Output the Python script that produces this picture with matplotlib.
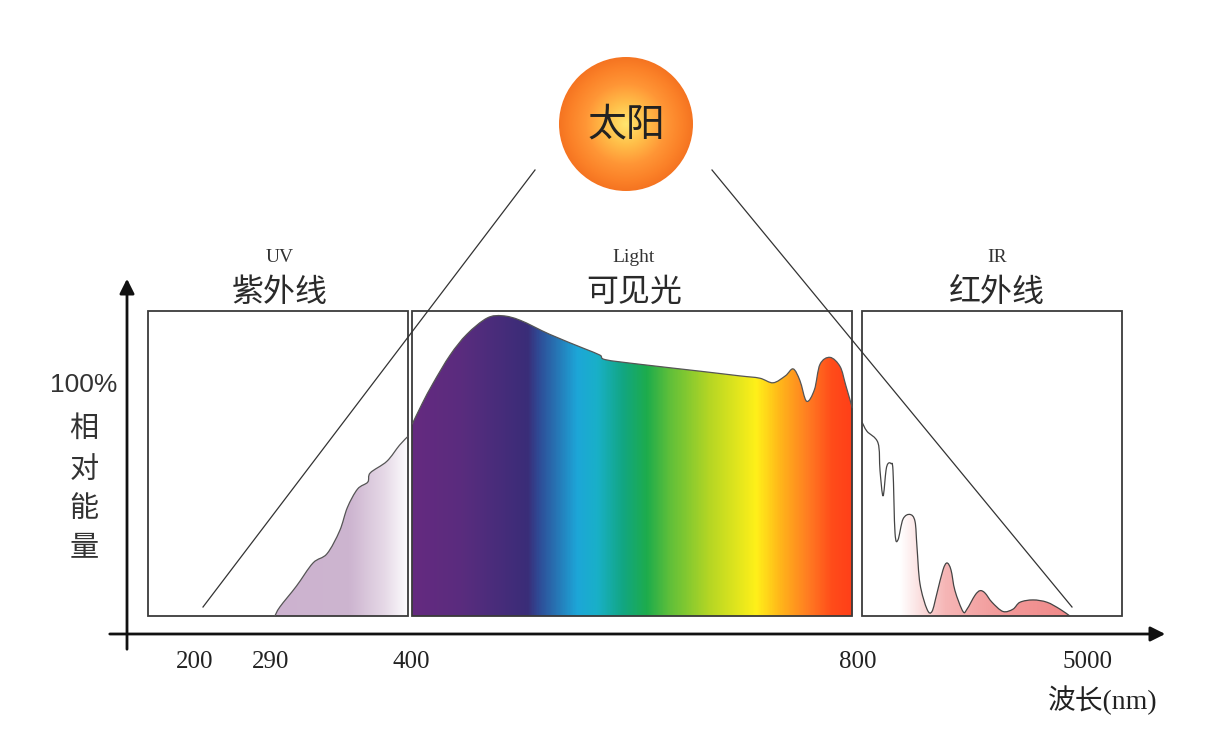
import numpy as np
import matplotlib.pyplot as plt
from matplotlib.colors import LinearSegmentedColormap
from matplotlib.patches import Rectangle, Circle, PathPatch
from matplotlib.path import Path
from matplotlib.transforms import blended_transform_factory

plt.rcParams['font.family'] = ['Noto Sans CJK SC', 'DejaVu Sans']

# wavelength ticks (nm) and where each one sits along the sketch (px)
tick_nm = [200, 290, 400, 800, 5000]
tick_px = [195, 271, 411, 858, 1088]

# relative energy (%)
uv_nm = [293, 297, 310, 323, 334, 344, 350, 358, 366, 368, 381, 391, 398]
uv_energy = [0, 4, 13, 23, 27, 37, 47, 55, 58, 62, 67, 74, 78]

vis_nm = [401, 410, 420, 435, 450, 468, 482, 498, 524, 554, 569, 574, 605,
          659, 694, 712, 724, 735, 742, 748, 754, 761, 766, 775, 784, 789, 795]
vis_energy = [83, 92, 101, 113, 122, 129, 130, 128, 122, 116, 113, 111, 109,
              106, 104, 103, 101, 104, 107, 102, 93, 98, 109, 112, 108, 100, 90]

ir_nm = [873, 964, 1165, 1202, 1257, 1311, 1348, 1403, 1439, 1476, 1530, 1622,
         1750, 1841, 1877, 1932, 2060, 2151, 2243, 2352, 2425, 2498, 2571, 2717,
         2790, 2936, 3028, 3119, 3247, 3448, 3630, 3758, 3996, 4251, 4489, 4671]
ir_energy = [84, 80, 75, 63, 52, 63, 66, 66, 63, 36, 33, 42,
             44, 41, 30, 14, 3, 2, 10, 20, 23, 20, 11, 2,
             3, 9, 11, 10, 6, 2, 3, 6, 7, 6, 3, 0]

bands_cn = ['紫外线', '可见光', '红外线']
bands_en = ['UV', 'Light', 'IR']

# spectrum colours across the visible box (px position, colour)
vis_stops = [(411, '#652a80'), (460, '#5a2c7e'), (527, '#3a2d78'), (538, '#2f4a95'),
             (577, '#1da6d8'), (597, '#19b0c8'), (623, '#12a682'), (647, '#1dac4c'),
             (670, '#5fbf3a'), (710, '#b5d624'), (757, '#fff019'), (780, '#ffb81a'),
             (810, '#ff7a22'), (833, '#ff4c1a'), (853, '#ff3f18')]

fig = plt.figure(figsize=(12.3, 7.42), dpi=100)

# drawing layer in pixels
ax = fig.add_axes([0, 0, 1, 1])
ax.set_xlim(0, 1230)
ax.set_ylim(742, 0)
ax.axis('off')

# data layer: wavelength (piecewise scale) vs relative energy
ax2 = fig.add_axes([0, 0, 1, 1])
nm_anchor = [-31] + tick_nm + [7593]
px_anchor = [0] + tick_px + [1230]
ax2.set_xscale('function', functions=(lambda v: np.interp(v, nm_anchor, px_anchor),
                                      lambda p: np.interp(p, px_anchor, nm_anchor)))
ax2.set_xlim(-31, 7593)
ax2.set_ylim(-54.5, 266.7)   # 0 % on the box floor, 100 % at the "100%" label
ax2.axis('off')
ax2.patch.set_alpha(0)


def smooth(xs, ys, close=False):
    # catmull-rom through the read points, as bezier segments
    p = np.column_stack([xs, ys]).astype(float)
    n = len(p)
    verts = [p[0]]
    codes = [Path.MOVETO]
    for i in range(n - 1):
        p0, p1, p2, p3 = p[max(i - 1, 0)], p[i], p[i + 1], p[min(i + 2, n - 1)]
        verts += [p1 + (p2 - p0) / 6, p2 - (p3 - p1) / 6, p2]
        codes += [Path.CURVE4] * 3
    if close:
        verts += [(xs[-1], 0), (xs[0], 0), (xs[0], 0)]
        codes += [Path.LINETO, Path.LINETO, Path.CLOSEPOLY]
    return Path(verts, codes)


def spectrum(xs, ys, color):
    shape = PathPatch(smooth(xs, ys, close=True), facecolor='none', edgecolor='none')
    ax2.add_patch(shape)
    ax2.add_patch(PathPatch(smooth(xs, ys), fill=False, edgecolor=color, lw=0.9, zorder=3))
    return shape


def hgrad(x0, x1, y0, y1, stops, clip):
    pos = [(q - x0) / (x1 - x0) for q, _ in stops]
    cmap = LinearSegmentedColormap.from_list('g', list(zip(pos, [c for _, c in stops])))
    im = ax.imshow(np.linspace(0, 1, 600)[None, :], cmap=cmap, aspect='auto',
                   extent=(x0, x1, y1, y0), zorder=2, interpolation='bilinear')
    im.set_clip_path(clip)


uv_shape = spectrum(uv_nm, uv_energy, '#555555')
vis_shape = spectrum(vis_nm, vis_energy, '#555555')
ir_shape = spectrum(ir_nm, ir_energy, '#444444')

hgrad(270, 410, 300, 617, [(270, '#ccb2cf'), (350, '#cdb5d0'), (385, '#e6d9e7'),
                           (410, '#ffffff')], uv_shape)
hgrad(411, 853, 300, 617, vis_stops, vis_shape)
hgrad(860, 1075, 400, 617, [(860, '#ffffff'), (900, '#ffffff'), (945, '#f6b6b6'),
                            (1000, '#f29a9a'), (1075, '#f08888')], ir_shape)

# band boxes
for x0, x1 in [(148, 408), (412, 852), (862, 1122)]:
    ax.add_patch(Rectangle((x0, 311), x1 - x0, 305, fill=False, ec='#3a3a3a',
                           lw=1.3, zorder=4))
for cx, cn, en in zip([280, 634, 997], bands_cn, bands_en):
    ax.text(cx, 258, en, ha='center', va='center', fontsize=14,
            family=['Liberation Serif'], color='#333333')
    ax.text(cx, 292, cn, ha='center', va='center', fontsize=23, color='#2a2a2a')

# light rays from the sun
ax.plot([535, 203], [170, 607], color='#333333', lw=0.9, zorder=5)
ax.plot([712, 1072], [170, 607], color='#333333', lw=0.9, zorder=5)

# sun
sun = Circle((626, 124), 67, facecolor='none', edgecolor='none')
ax.add_patch(sun)
yy, xx = np.mgrid[-1:1:300j, -1:1:300j]
rr = np.clip(np.hypot(xx, yy), 0, 1)
sun_cmap = LinearSegmentedColormap.from_list(
    's', [(0, '#ffe56e'), (0.3, '#ffc04a'), (0.6, '#ff9636'), (0.85, '#fb8128'), (1, '#f57421')])
im = ax.imshow(rr, cmap=sun_cmap, extent=(559, 693, 191, 57), aspect='auto',
               zorder=6, interpolation='bilinear')
im.set_clip_path(sun)
ax.text(626, 124, '太阳', ha='center', va='center', fontsize=28, color='#222222', zorder=7)

# axes arrows
ax.annotate('', xy=(127, 276), xytext=(127, 652),
            arrowprops=dict(arrowstyle='-|>', lw=2, color='#111111', mutation_scale=22))
ax.annotate('', xy=(1168, 634), xytext=(107, 634),
            arrowprops=dict(arrowstyle='-|>', lw=2, color='#111111', mutation_scale=22))

# tick labels
tr = blended_transform_factory(ax2.transData, ax.transData)
for w in tick_nm:
    ax2.text(w, 662, str(w), transform=tr, ha='center', va='center', fontsize=18,
             family=['Liberation Serif'], color='#222222')
ax.text(1103, 700, '波长(nm)', ha='center', va='center', fontsize=20,
        family=['Liberation Serif', 'Noto Sans CJK SC'], color='#222222')

tr_y = blended_transform_factory(ax.transData, ax2.transData)
ax2.text(84, 100, '100%', transform=tr_y, ha='center', va='center', fontsize=19,
         family=['Liberation Sans'], color='#333333')
for ch, y in zip('相对能量', [429, 470, 509, 548]):
    ax.text(84, y, ch, ha='center', va='center', fontsize=21, color='#333333')

fig.savefig('out.png', dpi=100, facecolor='white')
